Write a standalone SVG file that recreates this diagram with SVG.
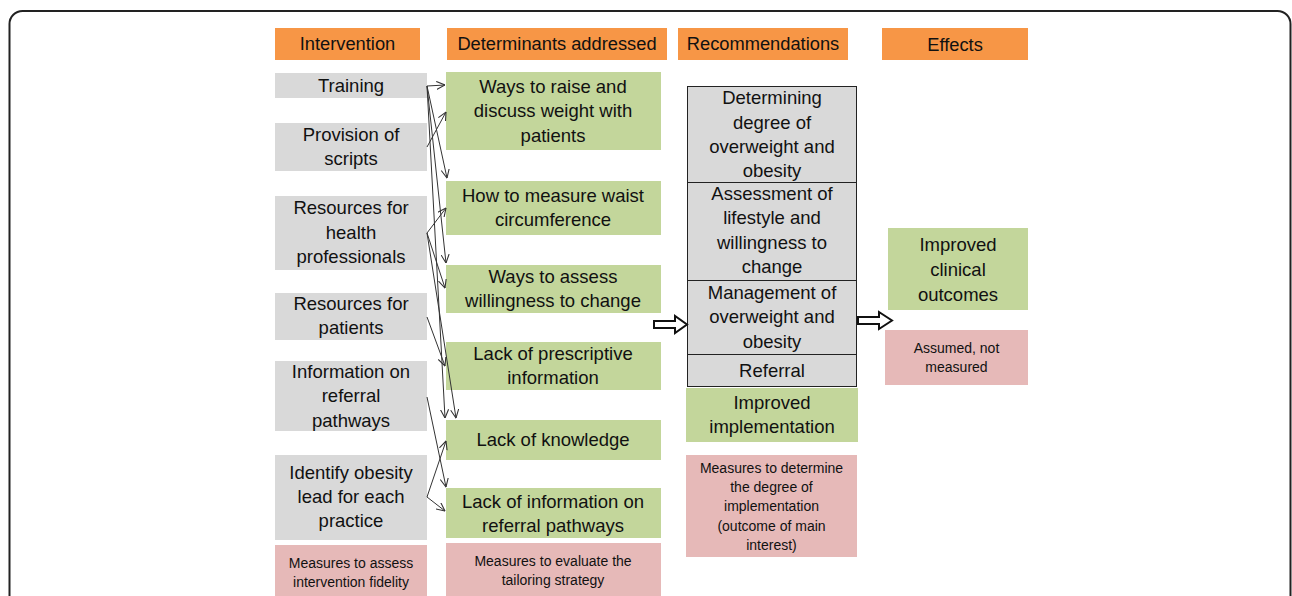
<svg xmlns="http://www.w3.org/2000/svg" width="1292" height="596" viewBox="0 0 1292 596">
<defs>
<marker id="open" viewBox="0 0 10 10" refX="9.5" refY="5" markerWidth="9" markerHeight="9" markerUnits="userSpaceOnUse" orient="auto">
<path d="M0,0.5 L9.5,5 L0,9.5" fill="none" stroke="#333" stroke-width="1.2"/>
</marker>
<style>
text{font-family:"Liberation Sans",Arial,sans-serif;fill:#111;text-anchor:middle}
.t{font-size:18.5px}
.s{font-size:14px}
.h{font-size:18.3px}
.hd{fill:#F79646}
.gr{fill:#D9D9D9}
.gn{fill:#C3D69B}
.pk{fill:#E6B9B8}
.rc{fill:#D9D9D9;stroke:#222;stroke-width:1}
.c{stroke:#333;stroke-width:1;fill:none;marker-end:url(#open)}
.blk{fill:#fff;stroke:#111;stroke-width:2}
</style>
</defs>
<rect x="9.5" y="11" width="1281" height="620" rx="13" fill="#fff" stroke="#222" stroke-width="2"/>

<g id="headers">
<g id="h-intervention"><rect class="hd" x="275" y="28" width="145" height="32"/><text class="h" x="347.5" y="50">Intervention</text></g>
<g id="h-determinants"><rect class="hd" x="447" y="28" width="220" height="32"/><text class="h" x="557" y="50">Determinants addressed</text></g>
<g id="h-recommendations"><rect class="hd" x="678" y="28" width="170" height="32"/><text class="h" x="763" y="50">Recommendations</text></g>
<g id="h-effects"><rect class="hd" x="882" y="28" width="146" height="32"/><text class="h" x="955" y="51">Effects</text></g>
</g>

<g id="intervention">
<g id="i-training"><rect class="gr" x="275" y="73" width="152" height="25"/><text class="t" x="351" y="92">Training</text></g>
<g id="i-scripts"><rect class="gr" x="275" y="123" width="152" height="48"/><text class="t" x="351" y="141">Provision of</text><text class="t" x="351" y="165">scripts</text></g>
<g id="i-hp"><rect class="gr" x="275" y="196" width="152" height="74"/><text class="t" x="351" y="214">Resources for</text><text class="t" x="351" y="239">health</text><text class="t" x="351" y="263">professionals</text></g>
<g id="i-patients"><rect class="gr" x="275" y="293" width="152" height="47"/><text class="t" x="351" y="310">Resources for</text><text class="t" x="351" y="334">patients</text></g>
<g id="i-referral"><rect class="gr" x="275" y="361" width="152" height="70"/><text class="t" x="351" y="378">Information on</text><text class="t" x="351" y="402">referral</text><text class="t" x="351" y="427">pathways</text></g>
<g id="i-lead"><rect class="gr" x="275" y="455" width="152" height="85"/><text class="t" x="351" y="479">Identify obesity</text><text class="t" x="351" y="503">lead for each</text><text class="t" x="351" y="527">practice</text></g>
<g id="i-fidelity"><rect class="pk" x="275" y="545" width="152" height="55"/><text class="s" x="351" y="568">Measures to assess</text><text class="s" x="351" y="587">intervention fidelity</text></g>
</g>

<g id="determinants">
<g id="d-raise"><rect class="gn" x="446" y="72" width="215" height="78"/><text class="t" x="553" y="93">Ways to raise and</text><text class="t" x="553" y="117">discuss weight with</text><text class="t" x="553" y="142">patients</text></g>
<g id="d-waist"><rect class="gn" x="446" y="181" width="215" height="54"/><text class="t" x="553" y="202">How to measure waist</text><text class="t" x="553" y="226">circumference</text></g>
<g id="d-willing"><rect class="gn" x="446" y="265" width="215" height="48"/><text class="t" x="553" y="283">Ways to assess</text><text class="t" x="553" y="307">willingness to change</text></g>
<g id="d-prescriptive"><rect class="gn" x="446" y="342" width="215" height="48"/><text class="t" x="553" y="360">Lack of prescriptive</text><text class="t" x="553" y="384">information</text></g>
<g id="d-knowledge"><rect class="gn" x="446" y="420" width="215" height="40"/><text class="t" x="553" y="446">Lack of knowledge</text></g>
<g id="d-refinfo"><rect class="gn" x="446" y="488" width="215" height="50"/><text class="t" x="553" y="508">Lack of information on</text><text class="t" x="553" y="532">referral pathways</text></g>
<g id="d-tailoring"><rect class="pk" x="446" y="543" width="215" height="57"/><text class="s" x="553" y="566">Measures to evaluate the</text><text class="s" x="553" y="585">tailoring strategy</text></g>
</g>

<g id="recommendations">
<g id="r-degree"><rect class="rc" x="687.5" y="86.5" width="169" height="96"/><text class="t" x="772" y="104">Determining</text><text class="t" x="772" y="129">degree of</text><text class="t" x="772" y="153">overweight and</text><text class="t" x="772" y="177">obesity</text></g>
<g id="r-lifestyle"><rect class="rc" x="687.5" y="182.5" width="169" height="98"/><text class="t" x="772" y="200">Assessment of</text><text class="t" x="772" y="224">lifestyle and</text><text class="t" x="772" y="249">willingness to</text><text class="t" x="772" y="273">change</text></g>
<g id="r-management"><rect class="rc" x="687.5" y="280.5" width="169" height="74"/><text class="t" x="772" y="299">Management of</text><text class="t" x="772" y="323">overweight and</text><text class="t" x="772" y="348">obesity</text></g>
<g id="r-referral"><rect class="rc" x="687.5" y="354.5" width="169" height="32"/><text class="t" x="772" y="377">Referral</text></g>
<g id="r-implementation"><rect class="gn" x="686" y="388" width="172" height="54"/><text class="t" x="772" y="409">Improved</text><text class="t" x="772" y="433">implementation</text></g>
<g id="r-measures"><rect class="pk" x="686" y="455" width="171" height="102"/><text class="s" x="771.5" y="473">Measures to determine</text><text class="s" x="771.5" y="492">the degree of</text><text class="s" x="771.5" y="511">implementation</text><text class="s" x="771.5" y="531">(outcome of main</text><text class="s" x="771.5" y="550">interest)</text></g>
</g>

<g id="effects">
<g id="e-clinical"><rect class="gn" x="888" y="228" width="140" height="82"/><text class="t" x="958" y="251">Improved</text><text class="t" x="958" y="276">clinical</text><text class="t" x="958" y="301">outcomes</text></g>
<g id="e-assumed"><rect class="pk" x="885" y="330" width="143" height="55"/><text class="s" x="956.5" y="353">Assumed, not</text><text class="s" x="956.5" y="372">measured</text></g>
</g>

<g id="connectors">
<path class="c" d="M427,86 L445,85"/>
<path class="c" d="M427,86 L447,178"/>
<path class="c" d="M427,86 L446,263"/>
<path class="c" d="M427,86 L445,418"/>
<path class="c" d="M427,147 L446,112"/>
<path class="c" d="M427,233 L446,208"/>
<path class="c" d="M427,233 L445,288"/>
<path class="c" d="M427,233 L456,418"/>
<path class="c" d="M427,317 L445,366"/>
<path class="c" d="M427,397 L446,487"/>
<path class="c" d="M427,497 L446,441"/>
<path class="c" d="M427,497 L445,511"/>
<path class="blk" d="M654,321 L675,321 L675,316 L687,324.5 L675,333 L675,328 L654,328 Z"/>
<path class="blk" d="M858,317 L879,317 L879,312 L892,320.5 L879,329 L879,324 L858,324 Z"/>
</g>
</svg>
